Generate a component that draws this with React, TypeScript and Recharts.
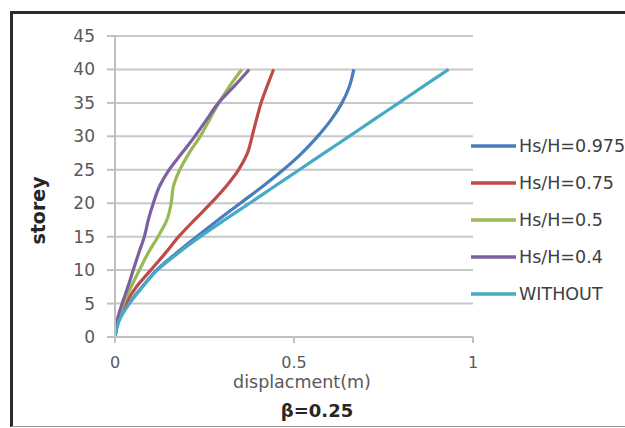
import React from 'react';
import { LineChart, Line, XAxis, YAxis, CartesianGrid, Legend, Label } from 'recharts';

const storeys = [0, 2.5, 5, 7.5, 10, 12.5, 15, 17.5, 20, 22.5, 25, 27.5, 30, 32.5, 35, 37.5, 40];

const dispHs0975 = [0, 0.011, 0.039, 0.076, 0.116, 0.17, 0.228, 0.288, 0.35, 0.412, 0.47, 0.522, 0.566, 0.604, 0.634, 0.655, 0.667];
const dispHs075 = [0, 0.01, 0.03, 0.06, 0.1, 0.14, 0.178, 0.222, 0.268, 0.31, 0.345, 0.37, 0.383, 0.395, 0.408, 0.425, 0.443];
const dispHs05 = [0, 0.008, 0.024, 0.045, 0.068, 0.092, 0.12, 0.145, 0.157, 0.163, 0.181, 0.207, 0.238, 0.264, 0.29, 0.32, 0.354];
const dispHs04 = [0, 0.006, 0.02, 0.036, 0.051, 0.066, 0.082, 0.093, 0.107, 0.124, 0.151, 0.187, 0.223, 0.256, 0.289, 0.333, 0.375];
const dispWithout = [0, 0.012, 0.04, 0.077, 0.118, 0.175, 0.238, 0.306, 0.376, 0.445, 0.515, 0.584, 0.654, 0.723, 0.793, 0.862, 0.932];

const seriesNames = ['Hs/H=0.975', 'Hs/H=0.75', 'Hs/H=0.5', 'Hs/H=0.4', 'WITHOUT'];
const seriesColors = ['#4A7EBB', '#BE4B48', '#98B954', '#7D60A0', '#46AAC5'];
const seriesValues = [dispHs0975, dispHs075, dispHs05, dispHs04, dispWithout];

const xTicks = [0, 0.5, 1];
const yTicks = [0, 5, 10, 15, 20, 25, 30, 35, 40, 45];

const xTitle = 'displacment(m)';
const subTitle = 'β=0.25';
const yTitle = 'storey';

const FONT = '"DejaVu Sans", sans-serif';

const build = (vals: number[]) => storeys.map((s, i) => ({ s, d: vals[i] }));

const renderLegend = () => {
  return (
    <div style={{ fontFamily: FONT, fontSize: 17.5, color: '#404040' }}>
      {seriesNames.map((name, i) => (
        <div key={name} style={{ display: 'flex', alignItems: 'center', height: 36.8, whiteSpace: 'nowrap' }}>
          <svg width={49} height={6} style={{ flex: 'none' }}>
            <line x1={1} y1={3} x2={46} y2={3} stroke={seriesColors[i]} strokeWidth={3.5} />
          </svg>
          <span>{name}</span>
        </div>
      ))}
    </div>
  );
};

const XTitles = (props: any) => {
  const vb = props.viewBox || { x: 0, y: 0, width: 0, height: 0 };
  const cx = vb.x + vb.width / 2;
  return (
    <g>
      <text x={cx + 8} y={vb.y + 51} textAnchor="middle" fontFamily={FONT} fontSize={17.5} fill="#595959">
        {xTitle}
      </text>
      <text x={cx + 23} y={vb.y + 80} textAnchor="middle" fontFamily={FONT} fontSize={18} fontWeight="bold" fill="#262626">
        {subTitle}
      </text>
    </g>
  );
};

const YTitle = (props: any) => {
  const vb = props.viewBox || { x: 0, y: 0, width: 0, height: 0 };
  const bx = vb.x + 45;
  const cy = vb.y + vb.height / 2 + 24;
  return (
    <text
      x={bx}
      y={cy}
      textAnchor="middle"
      fontFamily={FONT}
      fontSize={19}
      fontWeight="bold"
      fill="#262626"
      transform={`rotate(-90, ${bx}, ${cy})`}
    >
      {yTitle}
    </text>
  );
};

export default function App() {
  return (
    <div style={{ position: 'absolute', left: 0, top: 0, width: 625, height: 428, background: '#ffffff', overflow: 'hidden' }}>
      <LineChart
        width={625}
        height={428}
        layout="vertical"
        margin={{ top: 36, right: 152, bottom: 0, left: 0 }}
      >
        <CartesianGrid horizontal={true} vertical={false} stroke="#c8c8c8" strokeWidth={2} />
        <XAxis
          type="number"
          domain={[0, 1]}
          ticks={xTicks}
          allowDataOverflow
          height={91}
          tickSize={6}
          tickMargin={14}
          axisLine={{ stroke: '#bfbfbf', strokeWidth: 2 }}
          tickLine={{ stroke: '#bfbfbf', strokeWidth: 2 }}
          tick={{ fontFamily: FONT, fontSize: 16, fill: '#595959' }}
          tickFormatter={(v: number) => String(v)}
        >
          <Label content={<XTitles />} />
        </XAxis>
        <YAxis
          type="number"
          dataKey="s"
          domain={[0, 45]}
          ticks={yTicks}
          reversed
          allowDataOverflow
          width={115}
          tickSize={8}
          tickMargin={12}
          axisLine={{ stroke: '#bfbfbf', strokeWidth: 2 }}
          tickLine={{ stroke: '#bfbfbf', strokeWidth: 2 }}
          tick={{ fontFamily: FONT, fontSize: 17, fill: '#595959' }}
        >
          <Label content={<YTitle />} />
        </YAxis>
        <Legend
          layout="horizontal"
          verticalAlign="middle"
          align="center"
          content={renderLegend}
          wrapperStyle={{ position: 'absolute', left: 470, top: 128, width: 155 }}
        />
        {seriesNames.map((name, i) => (
          <Line
            key={name}
            name={name}
            data={build(seriesValues[i])}
            dataKey="d"
            type="monotone"
            stroke={seriesColors[i]}
            strokeWidth={3.2}
            dot={false}
            activeDot={false}
            isAnimationActive={false}
          />
        ))}
      </LineChart>
      <div
        style={{
          position: 'absolute',
          left: 10,
          top: 11,
          width: 700,
          height: 412,
          borderLeft: '3px solid #2b2b2b',
          borderTop: '3px solid #2b2b2b',
          borderBottom: '1px solid #9a9a9a',
          pointerEvents: 'none',
        }}
      />
    </div>
  );
}
